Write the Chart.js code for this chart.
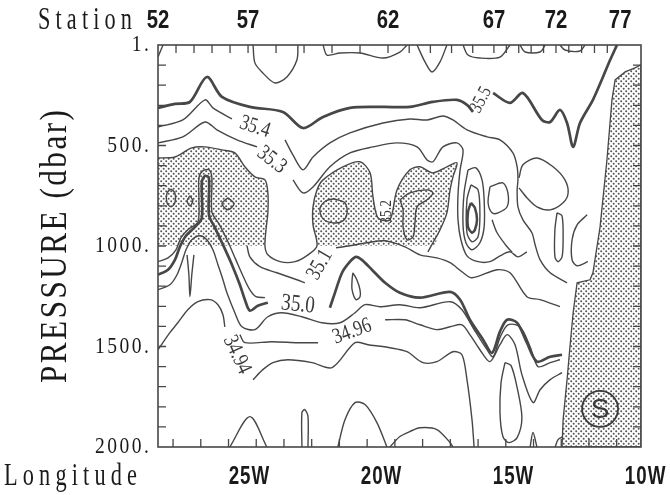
<!DOCTYPE html>
<html>
<head>
<meta charset="utf-8">
<script src="https://cdn.jsdelivr.net/npm/chart.js@4.4.0/dist/chart.umd.min.js"></script>
<style>
html, body { margin: 0; padding: 0; background: #fff; }
#wrap { width: 670px; height: 495px; }
</style>
</head>
<body>
<div id="wrap"><canvas id="canvas"></canvas></div>
<script>
// axis labels
var stationNumbers = [52, 57, 62, 67, 72, 77];
var stationLon = [-28.33, -24.92, -19.62, -15.61, -13.26, -10.83];
var lonTicks = [-25, -20, -15, -10];
var lonTickLabels = ['25W', '20W', '15W', '10W'];
var presTicks = [1, 500, 1000, 1500, 2000];
var presTickLabels = ['1.', '500.', '1000.', '1500.', '2000.'];

// contours, [longitude (E, negative = W), pressure dbar]
var c355a = [[-28.33,313],[-27.69,293],[-27.12,283],[-26.48,159],[-25.91,258],[-24.85,308],[-23.60,333],[-22.84,413],[-22.08,358],[-21.06,313],[-19.81,308],[-18.79,308],[-17.92,283],[-17.01,273],[-16.63,298],[-16.40,333]];
var c355b = [[-15.64,239],[-15.00,288],[-14.51,239],[-13.79,373],[-13.48,383],[-13.11,323],[-12.84,388],[-12.61,507],[-12.35,388],[-11.86,273],[-11.48,159],[-11.21,75],[-10.95,0]];
var c354a = [[-28.33,408],[-27.39,373],[-26.55,273],[-26.25,313],[-25.53,368]];
var c354b = [[-23.52,472],[-23.22,547],[-22.84,621],[-22.46,557],[-21.82,487],[-21.06,437],[-19.81,388],[-18.79,368],[-18.14,373],[-17.54,353],[-17.16,373],[-16.63,422],[-15.87,457],[-15.38,472],[-14.89,537],[-14.73,606],[-14.70,671],[-14.73,721],[-14.70,805],[-14.51,870],[-14.17,934],[-14.05,994],[-13.86,1069],[-13.48,1133],[-12.84,1183]];
var c354bub = [[-14.66,661],[-14.51,596],[-13.98,562],[-13.37,606],[-12.92,671],[-12.80,736],[-12.99,785],[-13.48,820],[-13.98,805],[-14.36,760],[-14.66,711]];
var c353a = [[-28.33,487],[-27.39,457],[-26.55,383],[-26.10,422],[-25.34,472],[-24.58,507]];
var c353b = [[-23.22,671],[-22.84,736],[-22.46,706],[-21.82,606],[-21.06,537],[-20.19,507],[-19.28,487],[-18.52,507],[-18.14,572],[-17.92,581],[-17.54,507],[-17.01,487],[-16.78,522],[-16.89,621],[-16.97,746],[-16.97,870],[-16.86,969],[-16.63,1049],[-16.21,1078],[-15.76,1078],[-15.38,1049],[-15.00,1029],[-14.70,1054],[-14.36,1029]];
var c352 = [[-28.33,562],[-27.69,557],[-27.05,512],[-26.55,507],[-25.91,522],[-25.42,537],[-25.04,606],[-24.66,656],[-24.28,671],[-24.17,736],[-24.17,835],[-24.24,919],[-24.28,999],[-24.17,1044],[-23.71,1078],[-23.14,1078],[-22.65,1044],[-22.31,999],[-22.46,895],[-22.46,805],[-22.31,721],[-22.08,671],[-21.33,606],[-20.68,581],[-20.30,636],[-20.19,755],[-20.00,860],[-19.55,870],[-19.28,721],[-18.79,621],[-18.41,606],[-17.92,636],[-17.39,606],[-17.01,586],[-17.16,656],[-17.27,721],[-17.39,835],[-17.65,919],[-17.92,984],[-18.11,1029]];
var c351a = [[-24.96,999],[-24.85,1054],[-24.47,1103],[-23.83,1133],[-23.07,1168],[-22.77,1183]];
var c351b = [[-21.59,1009],[-21.06,999],[-20.42,984],[-19.73,974],[-18.98,1004],[-18.41,1044],[-17.77,1059],[-17.27,1083],[-16.82,1128],[-16.44,1158],[-15.49,1118],[-15.00,1133],[-14.36,1252],[-13.86,1267],[-13.11,1302]];
var c350a = [[-28.33,1143],[-27.95,1118],[-27.69,1069],[-27.50,1004],[-27.27,949],[-26.89,900],[-26.67,860],[-26.67,681],[-26.55,651],[-26.40,661],[-26.40,845],[-26.17,910],[-25.87,994],[-25.53,1093],[-25.23,1193],[-25.04,1267],[-24.85,1322],[-24.55,1297],[-24.17,1282]];
var c350b = [[-21.82,1307],[-21.63,1233],[-21.36,1133],[-21.06,1078],[-20.83,1054],[-20.61,1069],[-20.23,1118],[-19.73,1183],[-19.17,1233],[-18.41,1257],[-17.27,1228],[-16.89,1267],[-16.52,1367],[-16.02,1466],[-15.68,1531],[-15.38,1426],[-15.11,1367],[-14.73,1382],[-14.36,1481],[-13.98,1575],[-13.48,1551],[-13.03,1541]];
var c351spike = [[-28.33,1078],[-27.95,1059],[-27.65,1019],[-27.46,959],[-27.20,919],[-26.82,880],[-26.78,770],[-26.78,661],[-26.63,626],[-26.40,621],[-26.29,661],[-26.29,830],[-26.02,890],[-25.68,979],[-25.38,1069],[-25.08,1158],[-24.85,1218],[-24.62,1252],[-24.28,1257]];
var c3498 = [[-28.33,1218],[-27.88,1193],[-27.61,1143],[-27.42,1078],[-27.27,1019],[-27.05,969],[-26.74,949],[-26.48,969],[-26.25,1019],[-26.06,1093],[-25.87,1168],[-25.72,1233],[-25.42,1332],[-25.15,1402],[-24.66,1416],[-24.17,1352],[-23.64,1332],[-22.88,1352],[-22.12,1382],[-21.44,1382],[-20.87,1332],[-20.49,1292],[-19.92,1302],[-19.17,1292],[-18.41,1307],[-17.27,1277],[-16.82,1317],[-16.36,1416],[-15.87,1516],[-15.64,1551],[-15.38,1456],[-15.08,1392],[-14.62,1402],[-14.24,1501],[-13.94,1600],[-13.48,1580],[-13.11,1566]];
var c3496a = [[-25.23,1441],[-25.04,1481],[-24.02,1476],[-23.03,1481],[-22.27,1481]];
var c3496b = [[-19.73,1367],[-18.98,1367],[-18.41,1392],[-17.77,1416],[-17.27,1402],[-16.82,1392],[-16.52,1441],[-16.14,1516],[-15.76,1575],[-15.38,1491],[-15.11,1441],[-14.81,1491],[-14.55,1640],[-14.13,1779],[-13.86,1715],[-13.48,1665],[-13.03,1630]];
var c3494a = [[-28.33,1516],[-27.88,1431],[-27.58,1382],[-27.20,1317],[-26.82,1277],[-26.36,1267],[-26.06,1292],[-25.87,1342],[-25.80,1402]];
var c3494b = [[-24.73,1665],[-24.36,1615],[-23.98,1580],[-23.41,1566],[-22.50,1580],[-21.74,1605],[-20.87,1481],[-20.38,1491],[-19.55,1506],[-18.90,1526],[-18.30,1580],[-17.77,1575],[-17.16,1526],[-16.82,1541],[-16.63,1665],[-16.44,1864],[-16.36,2000]];

// closed loops and short pieces
var loopA = [[-27.84,716],[-27.69,736],[-27.69,785],[-27.84,805],[-27.99,785],[-27.99,736],[-27.84,716]];
var loopB = [[-27.12,750],[-27.01,775],[-27.12,800],[-27.23,775],[-27.12,750]];
var loopC = [[-25.68,760],[-25.45,790],[-25.68,820],[-25.91,790],[-25.68,760]];
var loopD = [[-21.67,765],[-21.25,785],[-21.17,835],[-21.33,875],[-21.70,885],[-22.08,865],[-22.20,815],[-21.97,775],[-21.67,765]];
var loopE = [[-19.17,770],[-18.79,736],[-18.14,721],[-17.92,736],[-18.14,770],[-18.52,805],[-18.60,885],[-18.67,954],[-18.90,969],[-19.05,905],[-19.05,820],[-19.17,770]];
var loop67a = [[-16.59,621],[-16.29,611],[-16.06,671],[-15.98,770],[-15.98,905],[-16.14,984],[-16.44,1019],[-16.67,984],[-16.78,895],[-16.74,736],[-16.59,621]];
var loop67b = [[-16.48,696],[-16.21,721],[-16.14,845],[-16.21,954],[-16.44,979],[-16.63,934],[-16.63,770],[-16.48,696]];
var loop67c = [[-16.48,785],[-16.33,810],[-16.25,870],[-16.33,919],[-16.44,934],[-16.59,905],[-16.59,830],[-16.48,785]];
var loopF = [[-15.76,706],[-15.27,686],[-15.08,736],[-15.11,805],[-15.45,835],[-15.68,835],[-15.83,785],[-15.76,706]];
var loopG = [[-13.22,835],[-13.03,850],[-12.99,969],[-13.03,1054],[-13.18,1078],[-13.30,1054],[-13.30,919],[-13.22,835]];
var hookH = [[-12.08,845],[-12.46,895],[-12.65,969],[-12.65,1069],[-12.46,1098],[-12.05,1078]];
var pieceR = [[-15.68,870],[-15.49,934],[-15.11,1004],[-14.92,1030]];
var spike98 = [[-27.23,1044],[-27.16,1143],[-27.12,1252],[-27.05,1143],[-26.97,1044]];
var loop20W = [[-20.95,1133],[-20.80,1168],[-20.68,1218],[-20.68,1252],[-20.83,1267],[-20.98,1218],[-20.98,1168],[-20.95,1133]];
var ellE = [[-15.19,1580],[-14.96,1595],[-14.73,1705],[-14.55,1854],[-14.73,1953],[-15.04,1978],[-15.27,1948],[-15.38,1829],[-15.34,1680],[-15.19,1580]];
var botA = [[-25.61,2000],[-24.85,1849],[-24.21,2000]];
var botB = [[-22.88,2000],[-22.88,1829],[-22.77,1814],[-22.65,1849],[-22.65,2000]];
var botC = [[-21.52,2000],[-21.25,1864],[-20.87,1779],[-20.49,1789],[-20.04,1879],[-19.66,2000]];
var botD = [[-19.55,2000],[-19.17,1948],[-18.79,1923],[-18.41,1904],[-17.77,1913],[-17.27,1978],[-17.16,2000]];
var botE = [[-14.24,2000],[-14.13,1928],[-13.98,2000]];
var botF = [[-13.29,2000],[-13.18,1963],[-12.99,1948]];
var topA = [[-28.33,60],[-28.22,25],[-28.14,0]];
var topB = [[-24.73,0],[-24.66,89],[-24.36,139],[-23.90,189],[-23.45,159],[-23.07,75],[-23.03,0]];
var topC = [[-22.08,0],[-21.93,50],[-21.44,40],[-20.68,40],[-19.81,65],[-19.17,35],[-18.90,0]];
var topD = [[-18.52,0],[-18.22,84],[-17.95,134],[-17.65,84],[-17.39,0]];
var topE = [[-16.78,0],[-16.59,50],[-16.14,65],[-15.38,60],[-15.00,0]];
var topF = [[-14.62,0],[-14.43,35],[-13.86,35],[-13.67,0]];
var topG = [[-13.11,0],[-12.92,25],[-12.35,30],[-12.16,0]];

// stippled areas
var stipLeft = [[-28.33,562],[-27.69,557],[-27.05,512],[-26.55,507],[-25.91,522],[-25.42,537],[-25.04,606],[-24.66,656],[-24.28,671],[-24.17,736],[-24.17,835],[-24.24,919],[-24.28,1000],[-28.33,1000],[-28.33,562]];
var stipMid = [[-22.31,1000],[-22.46,895],[-22.46,805],[-22.31,721],[-22.08,671],[-21.33,606],[-20.68,581],[-20.30,636],[-20.19,755],[-20.00,860],[-19.55,870],[-19.28,721],[-18.79,621],[-18.41,606],[-17.92,636],[-17.39,606],[-17.01,586],[-17.16,656],[-17.27,721],[-17.39,835],[-17.65,919],[-17.85,1000],[-22.31,1000]];
var stipRight = [[-10.04,99],[-10.27,114],[-10.64,134],[-11.02,174],[-11.14,273],[-11.33,572],[-11.59,905],[-11.86,1133],[-11.97,1168],[-12.46,1183],[-12.61,1332],[-12.73,1501],[-12.84,1665],[-12.99,1864],[-13.03,2000],[-10.04,2000],[-10.04,99]];

// contour labels
var labelText = ['35.5', '35.4', '35.3', '35.2', '35.1', '35.0', '34.96', '34.94'];
var labelLon = [-16.10, -24.66, -24.02, -19.66, -22.20, -23.03, -20.98, -25.34];
var labelP = [273, 408, 572, 830, 1093, 1292, 1426, 1541];
var symbolLon = -11.59, symbolP = 1810;

// ---------------------------------------------------------------
var labelAngle = [-62, 18, 38, -90, -60, 6, -20, 65];
var labelSize = [19, 22, 22, 17, 22, 24, 22, 22];
var ink = '#474747';

var ctx = document.getElementById('canvas').getContext('2d');
var tile = document.createElement('canvas');
tile.width = 5; tile.height = 5;
var tg = tile.getContext('2d');
tg.fillStyle = '#555';
tg.beginPath(); tg.arc(1.2, 1.2, 1.0, 0, 7); tg.fill();
tg.beginPath(); tg.arc(3.7, 3.7, 1.0, 0, 7); tg.fill();
var stipple = ctx.createPattern(tile, 'repeat');

function pts(a) { return a.map(function (p) { return { x: p[0], y: p[1] }; }); }
function line(a, w) {
  return { data: pts(a), showLine: true, pointRadius: 0, borderColor: ink, borderWidth: w || 1.4, tension: 0.3, fill: false, order: 1 };
}
function area(a, edge) {
  return { data: pts(a), showLine: true, pointRadius: 0, borderColor: edge ? ink : 'rgba(0,0,0,0)', borderWidth: edge ? 1.3 : 0,
    backgroundColor: stipple, fill: 'shape', tension: 0, order: 5 };
}

var datasets = [
  area(stipLeft), area(stipMid), area(stipRight, true),
  line(c355a, 2.7), line(c355b, 2.7), line(c350a, 2.7), line(c350b, 2.7), line(loop67c, 2.5),
  line(c354a), line(c354b), line(c354bub), line(c353a), line(c353b), line(c352),
  line(c351a), line(c351b), line(c351spike), line(c3498), line(c3496a), line(c3496b),
  line(c3494a), line(c3494b),
  line(loopA), line(loopB), line(loopC), line(loopD), line(loopE), line(loop67a), line(loop67b),
  line(loopF), line(loopG), line(hookH), line(pieceR), line(spike98), line(loop20W), line(ellE),
  line(botA), line(botB), line(botC), line(botD), line(botE), line(botF),
  line(topA), line(topB), line(topC), line(topD), line(topE), line(topF), line(topG)
];

// text drawn glyph by glyph so the spacing is exact
// o.len = span to fill, or o.gap = space between glyphs
function spaced(c, s, x, y, font, o) {
  var sx = o.sx || 1, chars = s.split('');
  c.save();
  c.font = font;
  c.translate(x, y);
  if (o.rot) c.rotate(o.rot * Math.PI / 180);
  var ws = chars.map(function (ch) { return c.measureText(ch).width * sx; });
  var sum = ws.reduce(function (p, q) { return p + q; }, 0);
  var gap = o.len ? (o.len - sum) / (chars.length - 1) : (o.gap || 0);
  var total = sum + gap * (chars.length - 1);
  var pos = o.align === 'right' ? -total : (o.align === 'center' ? -total / 2 : 0);
  c.textAlign = 'left';
  c.textBaseline = o.base || 'middle';
  c.fillStyle = o.color || '#1a1a1a';
  for (var i = 0; i < chars.length; i++) {
    c.save(); c.translate(pos, 0); c.scale(sx, 1); c.fillText(chars[i], 0, 0); c.restore();
    pos += ws[i] + gap;
  }
  c.restore();
}

function stationToLon(n) {
  for (var i = 0; i < stationNumbers.length - 1; i++) {
    if (n <= stationNumbers[i + 1]) {
      var f = (n - stationNumbers[i]) / (stationNumbers[i + 1] - stationNumbers[i]);
      return stationLon[i] + f * (stationLon[i + 1] - stationLon[i]);
    }
  }
  return stationLon[stationLon.length - 1];
}

var decor = {
  id: 'decor',
  beforeDraw: function (chart) {
    var c = chart.ctx;
    c.save(); c.fillStyle = '#fff'; c.fillRect(0, 0, chart.width, chart.height); c.restore();
  },
  afterDatasetsDraw: function (chart) {
    var c = chart.ctx, a = chart.chartArea, xs = chart.scales.x, ys = chart.scales.y;
    c.save();
    c.strokeStyle = ink; c.lineWidth = 1.3;
    c.beginPath();
    // left / right ticks every 100 dbar
    for (var p = 100; p < 2000; p += 100) {
      var y = ys.getPixelForValue(p);
      c.moveTo(a.left, y); c.lineTo(a.left + 8, y);
      c.moveTo(a.right, y); c.lineTo(a.right - 8, y);
    }
    // top ticks at stations
    for (var n = 53; n < 77; n++) {
      var x = xs.getPixelForValue(stationToLon(n));
      c.moveTo(x, a.top); c.lineTo(x, a.top + 8);
    }
    // bottom ticks
    for (var v = -27.76; v < -10.2; v += 1.05) {
      var xb = xs.getPixelForValue(v);
      c.moveTo(xb, a.bottom); c.lineTo(xb, a.bottom - 8);
    }
    c.stroke();
    c.lineWidth = 1.6;
    c.strokeRect(a.left, a.top, a.right - a.left, a.bottom - a.top);
    c.restore();

    // contour labels
    for (var i = 0; i < labelText.length; i++) {
      spaced(c, labelText[i], xs.getPixelForValue(labelLon[i]), ys.getPixelForValue(labelP[i]),
        labelSize[i] + 'px "Liberation Serif"', { rot: labelAngle[i], sx: 0.8, align: 'center', color: '#3a3a3a' });
    }

    // S symbol
    var sx = xs.getPixelForValue(symbolLon), sy = ys.getPixelForValue(symbolP);
    c.save();
    c.strokeStyle = '#3a3a3a'; c.lineWidth = 1.8;
    c.beginPath(); c.arc(sx, sy, 18, 0, Math.PI * 2); c.stroke();
    c.restore();
    spaced(c, 'S', sx, sy + 1, '28px "Liberation Sans"', { align: 'center', color: '#3a3a3a' });

    // axis text
    for (var k = 0; k < presTicks.length; k++) {
      spaced(c, presTickLabels[k], 149, ys.getPixelForValue(presTicks[k]), '23px "Liberation Serif"', { align: 'right', sx: 0.85, gap: 2.5 });
    }
    for (var s = 0; s < stationNumbers.length; s++) {
      spaced(c, String(stationNumbers[s]), xs.getPixelForValue(stationLon[s]), 28, 'bold 26px "Liberation Sans"', { align: 'center', base: 'alphabetic', sx: 0.78 });
    }
    for (var t = 0; t < lonTicks.length; t++) {
      spaced(c, lonTickLabels[t], xs.getPixelForValue(lonTicks[t]) + 3, 484, 'bold 25px "Liberation Sans"', { align: 'center', base: 'alphabetic', sx: 0.75, gap: 1 });
    }
    spaced(c, 'Station', 38, 29, '31px "Liberation Serif"', { base: 'alphabetic', sx: 0.72, len: 94 });
    spaced(c, 'Longitude', 4, 485, '31px "Liberation Serif"', { base: 'alphabetic', sx: 0.72, len: 133 });
    spaced(c, 'PRESSURE (dbar)', 66, 383, '38px "Liberation Serif"', { rot: -90, base: 'alphabetic', sx: 0.82, len: 273 });
  }
};

new Chart(ctx, {
  type: 'scatter',
  data: { datasets: datasets },
  options: {
    responsive: true,
    maintainAspectRatio: false,
    animation: false,
    layout: { padding: { left: 158, right: 29, top: 45, bottom: 48 } },
    plugins: { legend: { display: false }, tooltip: { enabled: false } },
    scales: {
      x: { type: 'linear', min: -28.33, max: -10.04, display: false },
      y: { type: 'linear', min: 0, max: 2000, reverse: true, display: false }
    }
  },
  plugins: [decor]
});
</script>
</body>
</html>
